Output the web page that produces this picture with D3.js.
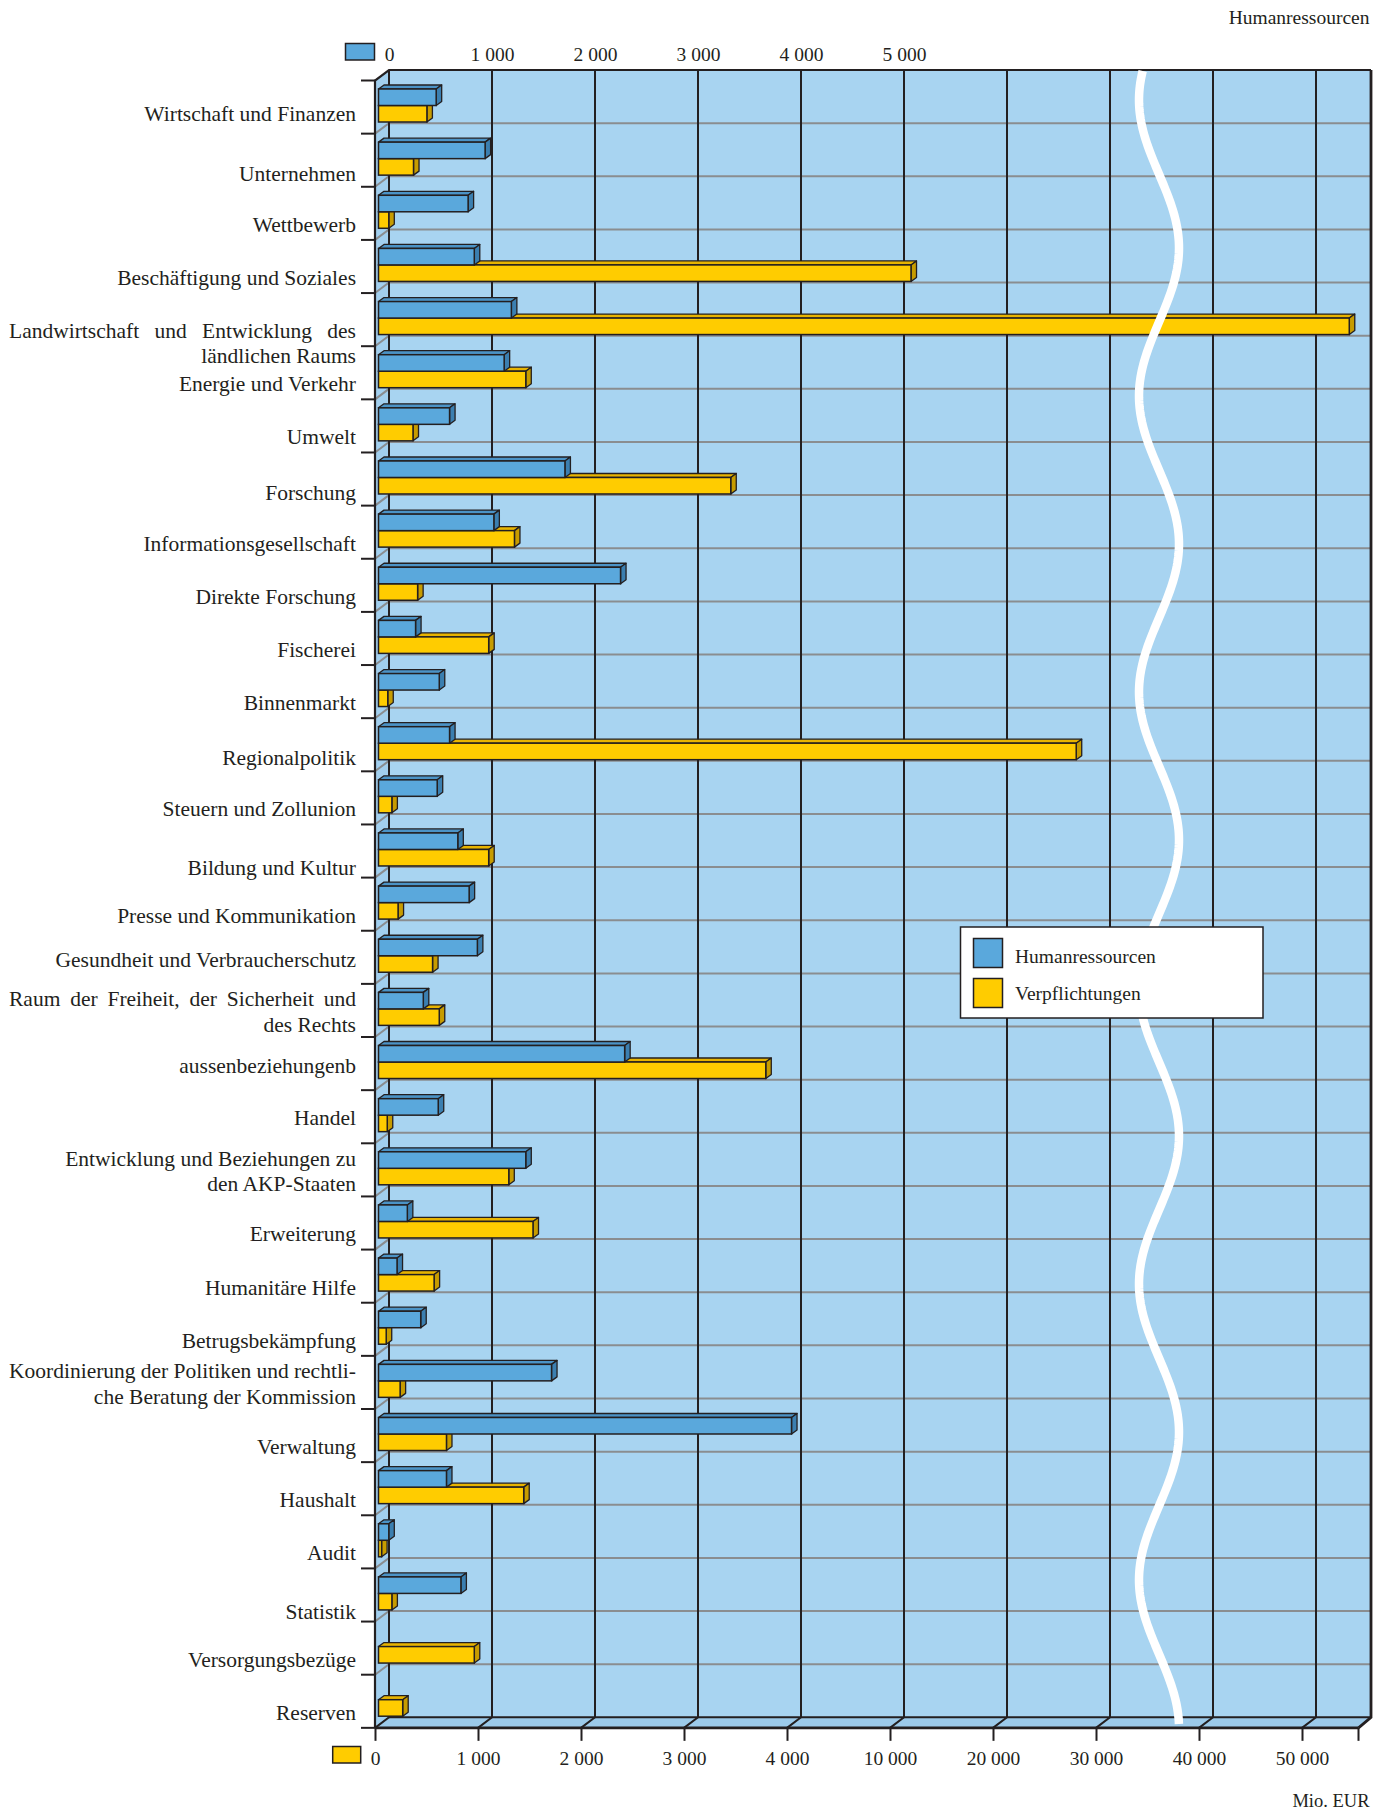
<!DOCTYPE html>
<html><head><meta charset="utf-8">
<script src="https://cdn.jsdelivr.net/npm/d3@7"></script>
<style>
body{margin:0;background:#fff}
svg text{font-family:"Liberation Serif","Times New Roman",serif;fill:#231f20}
</style>
</head><body>
<svg id="chart" width="1388" height="1812"></svg>
<script>
// ---------------- DATA ----------------
const categories = [
  "Wirtschaft und Finanzen", "Unternehmen", "Wettbewerb", "Beschäftigung und Soziales",
  "Landwirtschaft und Entwicklung des\nländlichen Raums", "Energie und Verkehr", "Umwelt",
  "Forschung", "Informationsgesellschaft", "Direkte Forschung", "Fischerei", "Binnenmarkt",
  "Regionalpolitik", "Steuern und Zollunion", "Bildung und Kultur", "Presse und Kommunikation",
  "Gesundheit und Verbraucherschutz", "Raum der Freiheit, der Sicherheit und\ndes Rechts",
  "aussenbeziehungenb", "Handel", "Entwicklung und Beziehungen zu\nden AKP-Staaten",
  "Erweiterung", "Humanitäre Hilfe", "Betrugsbekämpfung",
  "Koordinierung der Politiken und rechtli-\nche Beratung der Kommission",
  "Verwaltung", "Haushalt", "Audit", "Statistik", "Versorgungsbezüge", "Reserven"
];
const humanressourcen = [560, 1035, 870, 930, 1290, 1220, 690, 1810, 1120, 2350, 360, 590,
  690, 570, 770, 880, 960, 435, 2390, 580, 1430, 280, 180, 410, 1680, 4010, 660, 100, 800, null, null];
const verpflichtungen = [470, 340, 100, 11700, 54250, 1430, 335, 3420, 1320, 380, 1070, 90,
  27740, 130, 1070, 190, 525, 590, 3760, 85, 1265, 1500, 540, 75, 210, 660, 1410, 30, 130, 930, 235];
const seriesNames = ["Humanressourcen", "Verpflichtungen"];
const topTicks = [0, 1000, 2000, 3000, 4000, 5000];
const bottomTicks = [0, 1000, 2000, 3000, 4000, 10000, 20000, 30000, 40000, 50000];
const unitLabel = "Mio. EUR";
const hangingLabels = ["Landwirtschaft und Entwicklung des\nländlichen Raums"];

// ---------------- LAYOUT ----------------
const svg = d3.select("#chart");
const N = categories.length;
const BX0 = 389, STEP = 103, TOP = 70, BAND = 53.14;
const BACK_BOTTOM = TOP + N * BAND;
const BACK_RIGHT = 1371;
const DX = -14, DY = 10.5;          // front plane offset
const BAR_DX = -10.5;               // bars plane offset
const DEP = {x: 5.5, y: -4};        // bar depth
const INK = "#231f20";
const COL = {
  wall: "#a8d4f1", floor: "#9ccaea", side: "#a2cfee",
  blue: ["#5aa8dc", "#4b93c6", "#3b7fb0"],
  yellow: ["#ffcc00", "#e8b400", "#c79c00"]
};
// typographic nudges of individual label baselines (layout only, px)
const labelNudge = {
  "Wirtschaft und Finanzen": -5, "Unternehmen": 2, "Forschung": 3, "Bildung und Kultur": 6,
  "Gesundheit und Verbraucherschutz": -9, "aussenbeziehungenb": -9, "Handel": -10,
  "Statistik": 6, "Regionalpolitik": 2
};

const fmt = d3.formatLocale({decimal: ",", thousands: " ", grouping: [3], currency: ["", ""]}).format(",d");

const yBand = d3.scaleBand().domain(d3.range(N)).range([TOP, BACK_BOTTOM]);
const xBlue = d3.scaleLinear().domain([0, 1000]).range([BX0, BX0 + STEP]);
const xYellow = d3.scaleLinear().domain(bottomTicks).range(bottomTicks.map((d, i) => BX0 + i * STEP));
const xYellowFront = xYellow.copy().range(xYellow.range().map(r => r + DX));

// walls
svg.append("rect").attr("x", BX0).attr("y", TOP).attr("width", BACK_RIGHT - BX0)
  .attr("height", BACK_BOTTOM - TOP).attr("fill", COL.wall);
svg.append("polygon").attr("fill", COL.side)
  .attr("points", [[BX0 + DX, TOP + DY], [BX0, TOP], [BX0, BACK_BOTTOM], [BX0 + DX, BACK_BOTTOM + DY]].join(" "));
svg.append("polygon").attr("fill", COL.floor)
  .attr("points", [[BX0, BACK_BOTTOM], [BACK_RIGHT, BACK_BOTTOM], [BACK_RIGHT + DX + 1.5, BACK_BOTTOM + DY], [BX0 + DX, BACK_BOTTOM + DY]].join(" "));

// horizontal gridlines (back wall + side wall diagonals)
const hLines = d3.range(1, N).map(i => yBand(i));
svg.append("g").selectAll("path").data(hLines).join("path")
  .attr("d", y => `M${BX0 + DX},${y + DY}L${BX0},${y}L${BACK_RIGHT},${y}`)
  .attr("fill", "none").attr("stroke", "#8a8d90").attr("stroke-width", 2);

// vertical gridlines + floor diagonals
const vPos = bottomTicks.map(d => xYellow(d));
svg.append("g").selectAll("path").data(vPos).join("path")
  .attr("d", x => `M${x},${TOP}L${x},${BACK_BOTTOM}L${x + DX},${BACK_BOTTOM + DY}`)
  .attr("fill", "none").attr("stroke", INK).attr("stroke-width", 2);

// frame
svg.append("path").attr("fill", "none").attr("stroke", INK).attr("stroke-width", 2.2)
  .attr("d", `M${BX0 + DX},${BACK_BOTTOM + DY}L${BX0 + DX},${TOP + DY}L${BX0},${TOP}L${BACK_RIGHT},${TOP}`);
svg.append("path").attr("fill", "none").attr("stroke", INK).attr("stroke-width", 2)
  .attr("d", `M${BX0},${BACK_BOTTOM}L${BACK_RIGHT},${BACK_BOTTOM}`);
svg.append("path").attr("fill", "none").attr("stroke", INK).attr("stroke-width", 2.8)
  .attr("d", `M${BACK_RIGHT},${TOP}L${BACK_RIGHT},${BACK_BOTTOM}L${BACK_RIGHT + DX + 1.5},${BACK_BOTTOM + DY}`);
svg.append("path").attr("fill", "none").attr("stroke", INK).attr("stroke-width", 2.6)
  .attr("d", `M${BX0 + DX},${BACK_BOTTOM + DY}L${BACK_RIGHT + DX + 1.5},${BACK_BOTTOM + DY}`);
// right end tick
svg.append("line").attr("x1", BACK_RIGHT + DX + 1.5).attr("x2", BACK_RIGHT + DX + 1.5)
  .attr("y1", BACK_BOTTOM + DY).attr("y2", BACK_BOTTOM + DY + 13).attr("stroke", INK).attr("stroke-width", 2);

// left category ticks
svg.append("g").selectAll("line").data(d3.range(0, N + 1).map(i => TOP + i * BAND)).join("line")
  .attr("x1", BX0 + DX - 14).attr("x2", BX0 + DX).attr("y1", y => y + DY).attr("y2", y => y + DY)
  .attr("stroke", INK).attr("stroke-width", 2);

// ---------------- BARS ----------------
function bar3d(g, x0, x1, y, h, c) {
  const d = DEP;
  g.append("polygon").attr("fill", c[1]).attr("stroke", INK).attr("stroke-width", 1.3).attr("stroke-linejoin", "round")
    .attr("points", [[x0, y], [x0 + d.x, y + d.y], [x1 + d.x, y + d.y], [x1, y]].join(" "));
  g.append("polygon").attr("fill", c[2]).attr("stroke", INK).attr("stroke-width", 1.3).attr("stroke-linejoin", "round")
    .attr("points", [[x1, y], [x1 + d.x, y + d.y], [x1 + d.x, y + h + d.y], [x1, y + h]].join(" "));
  g.append("rect").attr("x", x0).attr("y", y).attr("width", Math.max(0, x1 - x0)).attr("height", h)
    .attr("fill", c[0]).attr("stroke", INK).attr("stroke-width", 1.5);
}
const BAR_H = 16.5;
const gBars = svg.append("g");
categories.forEach((c, i) => {
  const top = yBand(i);
  const gi = gBars.append("g");
  if (verpflichtungen[i] != null)
    bar3d(gi, xYellow(0) + BAR_DX, xYellow(verpflichtungen[i]) + BAR_DX, top + 19 + BAR_H, BAR_H, COL.yellow);
  if (humanressourcen[i] != null)
    bar3d(gi, xBlue(0) + BAR_DX, xBlue(humanressourcen[i]) + BAR_DX, top + 19, BAR_H, COL.blue);
});

// ---------------- SCALE BREAK ----------------
const waveX = (xYellow(30000) + xYellow(40000)) / 2 - 2.5;
const wavePts = d3.range(TOP + 1, BACK_BOTTOM + DY - 1, 3)
  .map(y => [waveX - 20 * Math.cos(2 * Math.PI * (y - 100) / 296), y]);
svg.append("path").attr("d", d3.line()(wavePts)).attr("fill", "none")
  .attr("stroke", "#fff").attr("stroke-width", 8.5);

// ---------------- AXES ----------------
const axTop = svg.append("g").attr("transform", `translate(0,61)`)
  .call(d3.axisTop(xBlue).tickValues(topTicks).tickSize(0).tickPadding(0).tickFormat(fmt));
axTop.select(".domain").remove();
axTop.selectAll("text").attr("font-size", 19.5).attr("font-family", null).attr("fill", INK).attr("dy", null).attr("y", 0);

const axBot = svg.append("g").attr("transform", `translate(0,${BACK_BOTTOM + DY})`)
  .call(d3.axisBottom(xYellowFront).tickValues(bottomTicks).tickSizeInner(13).tickSizeOuter(0).tickFormat(fmt));
axBot.select(".domain").remove();
axBot.selectAll("line").attr("stroke", INK).attr("stroke-width", 2);
axBot.selectAll("text").attr("font-size", 19.5).attr("font-family", null).attr("fill", INK).attr("dy", null).attr("y", 37.5);

// axis swatches
svg.append("rect").attr("x", 345.5).attr("y", 43.5).attr("width", 29).attr("height", 16.5)
  .attr("fill", COL.blue[0]).attr("stroke", INK).attr("stroke-width", 1.5);
svg.append("rect").attr("x", 332.7).attr("y", 1746.5).attr("width", 28).attr("height", 16.5)
  .attr("fill", COL.yellow[0]).attr("stroke", INK).attr("stroke-width", 1.5);

svg.append("text").attr("x", 1369.5).attr("y", 24).attr("text-anchor", "end")
  .attr("font-size", 19.5).text(seriesNames[0]);
svg.append("text").attr("x", 1369.5).attr("y", 1807).attr("text-anchor", "end")
  .attr("font-size", 18.5).text(unitLabel);

// ---------------- CATEGORY LABELS ----------------
const LBL_R = 356, LBL_L = 9, LBL_FS = 21.5, LINE_H = 25.5;
const gLbl = svg.append("g").attr("font-size", LBL_FS);
function justify(g, text, y) {
  const words = text.split(" ");
  const nodes = words.map(w => g.append("text").attr("y", y).text(w));
  const ws = nodes.map(n => n.node().getComputedTextLength());
  const gap = (LBL_R - LBL_L - d3.sum(ws)) / (words.length - 1);
  let x = LBL_L;
  nodes.forEach((n, k) => { n.attr("x", x); x += ws[k] + gap; });
}
categories.forEach((c, i) => {
  const lines = c.split("\n");
  const top = yBand(i) + (labelNudge[c] || 0);
  let base;
  if (lines.length === 1) base = [top + 55.5];
  else if (hangingLabels.includes(c)) base = lines.map((l, k) => top + 55 + k * LINE_H);
  else base = lines.map((l, k) => top + 58.5 - (lines.length - 1 - k) * LINE_H);
  lines.forEach((l, k) => {
    const t = gLbl.append("text").attr("x", LBL_R).attr("y", base[k]).attr("text-anchor", "end").text(l);
    if (k < lines.length - 1) {
      const w = t.node().getComputedTextLength();
      if (w > 0.88 * (LBL_R - LBL_L)) { t.remove(); justify(gLbl, l, base[k]); }
    }
  });
});

// ---------------- LEGEND ----------------
const lg = svg.append("g").attr("transform", "translate(960.5,927)");
lg.append("rect").attr("width", 302.5).attr("height", 91).attr("fill", "#fff")
  .attr("stroke", INK).attr("stroke-width", 1.5);
[COL.blue[0], COL.yellow[0]].forEach((c, k) => {
  lg.append("rect").attr("x", 13).attr("y", 11.5 + k * 40).attr("width", 29).attr("height", 29)
    .attr("fill", c).attr("stroke", INK).attr("stroke-width", 1.5);
  lg.append("text").attr("x", 54.5).attr("y", 35.5 + k * 37.5).attr("font-size", 19.5).text(seriesNames[k]);
});
</script>
</body></html>
